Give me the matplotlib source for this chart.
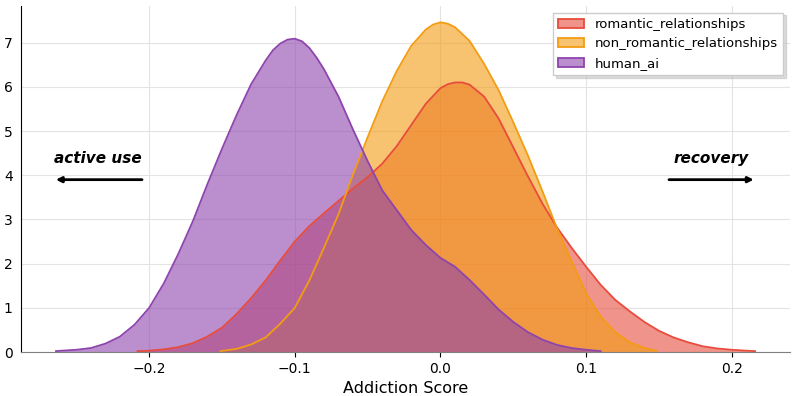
import matplotlib
matplotlib.use('Agg')
import matplotlib.pyplot as plt
from matplotlib.patches import Patch
from matplotlib.colors import to_rgba

# density curves (x = addiction score, y = density)
rom_x = [-0.208, -0.20, -0.19, -0.18, -0.17, -0.16, -0.15, -0.14, -0.13, -0.12, -0.11,
         -0.10, -0.09, -0.08, -0.07, -0.06, -0.05, -0.04, -0.03, -0.02, -0.01, 0.00,
         0.005, 0.01, 0.015, 0.02, 0.03, 0.04, 0.05, 0.06, 0.07, 0.08, 0.09, 0.10,
         0.11, 0.12, 0.13, 0.14, 0.15, 0.16, 0.17, 0.18, 0.19, 0.20, 0.21, 0.216]
rom_y = [0.02, 0.03, 0.06, 0.11, 0.20, 0.35, 0.55, 0.86, 1.22, 1.62, 2.07,
         2.50, 2.85, 3.14, 3.42, 3.70, 3.96, 4.26, 4.66, 5.14, 5.62, 5.97,
         6.06, 6.10, 6.10, 6.05, 5.78, 5.28, 4.63, 3.98, 3.36, 2.82, 2.36, 1.93,
         1.52, 1.18, 0.92, 0.68, 0.48, 0.33, 0.22, 0.13, 0.08, 0.05, 0.03, 0.02]

non_x = [-0.151, -0.14, -0.13, -0.12, -0.11, -0.10, -0.09, -0.08, -0.07, -0.06,
         -0.05, -0.04, -0.03, -0.02, -0.01, -0.005, 0.00, 0.005, 0.01, 0.02, 0.03,
         0.04, 0.05, 0.06, 0.07, 0.08, 0.09, 0.10, 0.11, 0.12, 0.13, 0.14, 0.148]
non_y = [0.02, 0.07, 0.17, 0.33, 0.64, 1.00, 1.62, 2.36, 3.12, 4.02,
         4.86, 5.67, 6.36, 6.93, 7.30, 7.41, 7.46, 7.43, 7.35, 7.04, 6.52,
         5.92, 5.20, 4.45, 3.64, 2.80, 2.06, 1.33, 0.80, 0.45, 0.22, 0.09, 0.03]

hai_x = [-0.264, -0.26, -0.25, -0.24, -0.23, -0.22, -0.21, -0.20, -0.19, -0.18,
         -0.17, -0.16, -0.15, -0.14, -0.13, -0.12, -0.115, -0.11, -0.105, -0.10,
         -0.095, -0.09, -0.085, -0.08, -0.07, -0.06, -0.05, -0.04, -0.03, -0.02,
         -0.01, 0.00, 0.01, 0.02, 0.03, 0.04, 0.05, 0.06, 0.07, 0.08, 0.09, 0.10, 0.11]
hai_y = [0.02, 0.03, 0.05, 0.09, 0.19, 0.35, 0.62, 1.00, 1.55, 2.22,
         2.96, 3.80, 4.60, 5.36, 6.06, 6.60, 6.83, 6.98, 7.07, 7.09,
         7.03, 6.88, 6.66, 6.40, 5.78, 5.03, 4.32, 3.66, 3.21, 2.76,
         2.42, 2.13, 1.93, 1.63, 1.30, 0.96, 0.68, 0.45, 0.28, 0.16, 0.09, 0.05, 0.02]

labels = ['romantic_relationships', 'non_romantic_relationships', 'human_ai']
colors = ['#e74c3c', '#f39c12', '#8e44ad']

fig = plt.figure(figsize=(7.97, 3.96), dpi=100)
ax = fig.add_axes([21 / 797, 1 - 352 / 396, 769 / 797, 346 / 396])

for xs, ys, lab, c in zip([rom_x, non_x, hai_x], [rom_y, non_y, hai_y], labels, colors):
    ax.fill_between(xs, ys, 0, color=c, alpha=0.6, linewidth=0, label=lab)
    ax.plot(xs, ys, color=c, linewidth=1.3)

# legend patches with coloured edges
handles = [Patch(facecolor=to_rgba(c, 0.6), edgecolor=c, linewidth=1.3) for c in colors]
ax.legend(handles, labels, loc='upper right', fontsize=9.5, shadow={'color': '#bbbbbb'},
          fancybox=False, framealpha=1, edgecolor='#cccccc', borderaxespad=0.5)

ax.set_xlim(-0.288, 0.240)
ax.set_ylim(0, 7.83)
ax.set_xticks([-0.2, -0.1, 0.0, 0.1, 0.2])
ax.set_yticks(range(8))
ax.grid(True, color='#e3e3e3', linewidth=0.8)
ax.set_axisbelow(True)
ax.spines['top'].set_visible(False)
ax.spines['right'].set_visible(False)
ax.spines['bottom'].set_color('#808080')
ax.tick_params(labelsize=10)
ax.tick_params(axis='y', length=0, pad=6)
ax.set_xlabel('Addiction Score', fontsize=11.5, labelpad=4)

# direction hints
ax.annotate('', xy=(-0.266, 3.90), xytext=(-0.203, 3.90),
            arrowprops=dict(arrowstyle='-|>', color='black', lw=2, mutation_scale=8))
ax.text(-0.235, 4.38, 'active use', ha='center', va='center', fontsize=11,
        fontweight='bold', fontstyle='italic')
ax.annotate('', xy=(0.217, 3.90), xytext=(0.155, 3.90),
            arrowprops=dict(arrowstyle='-|>', color='black', lw=2, mutation_scale=8))
ax.text(0.186, 4.38, 'recovery', ha='center', va='center', fontsize=11,
        fontweight='bold', fontstyle='italic')

fig.savefig('out.png', dpi=100)
